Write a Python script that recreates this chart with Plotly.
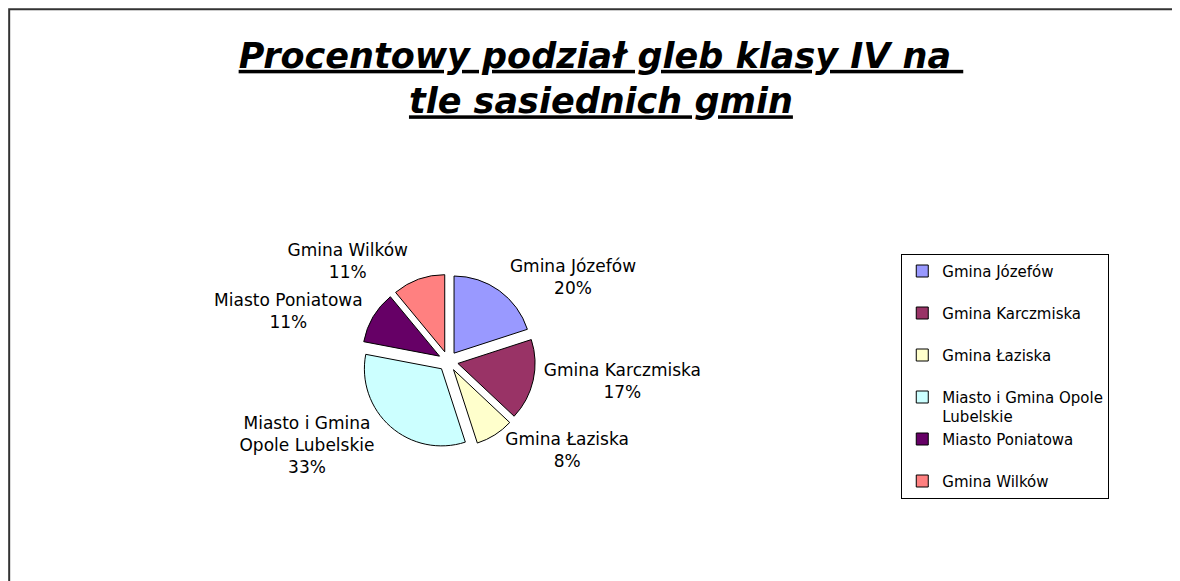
import plotly.graph_objects as go

# udział gleb klasy IV (%)
gminy = ["Gmina Józefów", "Gmina Karczmiska", "Gmina Łaziska",
         "Miasto i Gmina Opole Lubelskie", "Miasto Poniatowa", "Gmina Wilków"]
procent = [20, 17, 8, 33, 11, 11]
kolory = ["#9999FF", "#993366", "#FFFFCC", "#CCFFFF", "#660066", "#FF8080"]

# podpisy przy wycinkach i w legendzie
podpisy = ["Gmina Józefów", "Gmina Karczmiska", "Gmina Łaziska",
           "Miasto i Gmina<br>Opole Lubelskie", "Miasto Poniatowa", "Gmina Wilków"]
legenda = ["Gmina Józefów<br> ", "Gmina Karczmiska<br> ", "Gmina Łaziska<br> ",
           "Miasto i Gmina Opole<br>Lubelskie", "Miasto Poniatowa<br> ", "Gmina Wilków"]

czcionka = "DejaVu Sans"

fig = go.Figure(go.Pie(
    labels=legenda,
    values=procent,
    text=podpisy,
    texttemplate="%{text}<br>%{percent:.0%}",
    textposition="outside",
    textfont=dict(family=czcionka, size=17, color="black"),
    marker=dict(colors=kolory, line=dict(color="black", width=1)),
    pull=[0.13] * len(procent),
    sort=False,
    direction="clockwise",
    rotation=0,
    hoverinfo="label+percent",
    domain=dict(x=[0.298, 0.448], y=[0.242, 0.542]),
))

fig.update_layout(
    width=1180, height=581,
    margin=dict(l=0, r=0, t=0, b=0),
    paper_bgcolor="white",
    plot_bgcolor="white",
    title=dict(
        text="<b><i><u>Procentowy podział gleb klasy IV na </u></i></b><br>"
             "<b><i><u>tle sasiednich gmin</u></i></b>",
        x=0.5025, xanchor="center", y=0.897, yanchor="middle",
        font=dict(family=czcionka, size=35, color="black"),
    ),
    legend=dict(
        x=0.757, xanchor="left", y=0.577, yanchor="top",
        bordercolor="black", borderwidth=1,
        font=dict(family=czcionka, size=15, color="black"),
        valign="top",
        traceorder="normal",
    ),
    showlegend=True,
    shapes=[dict(type="rect", xref="paper", yref="paper",
                 x0=0.001, x1=1.01, y0=-0.05, y1=0.998,
                 line=dict(color="#333333", width=2))],
)

fig.write_html("out.html")
